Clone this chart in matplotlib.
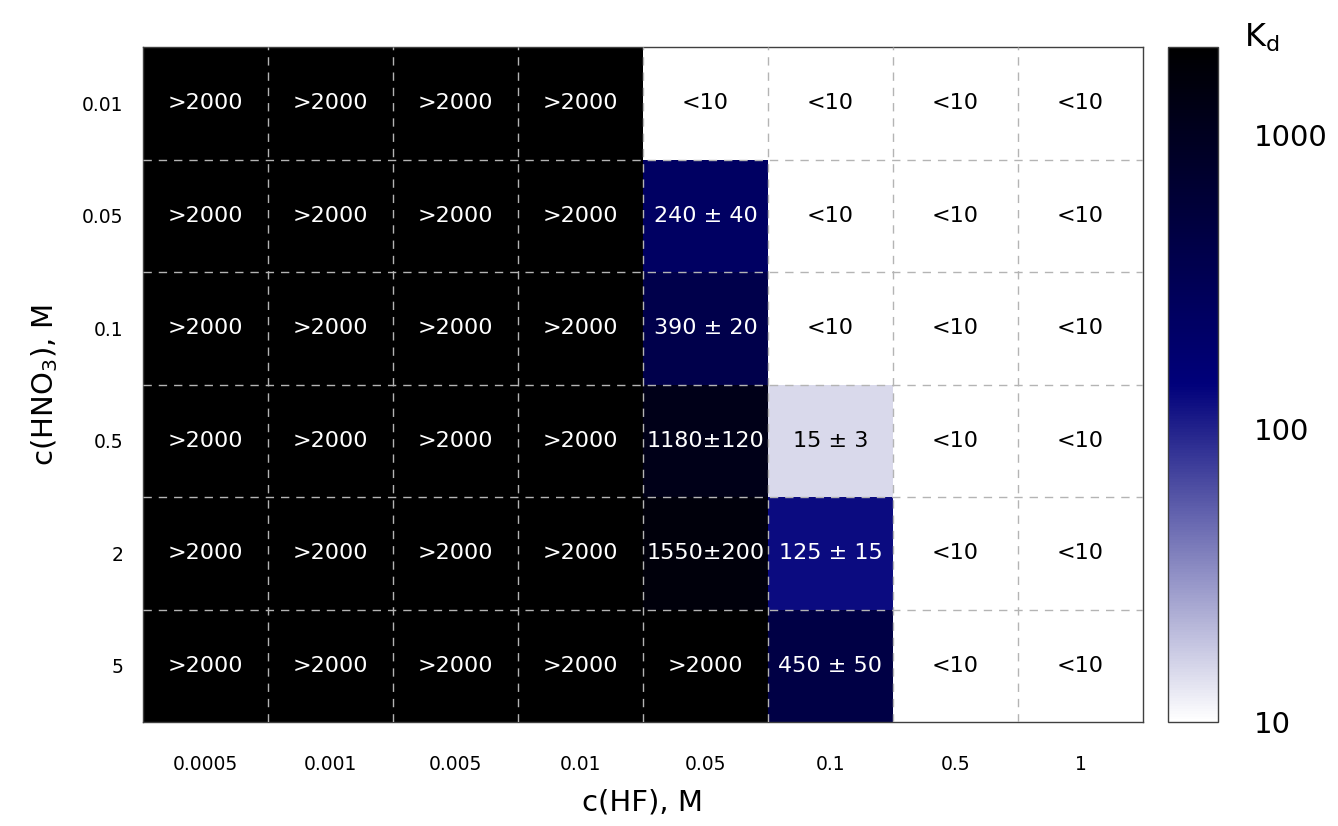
import numpy as np
import matplotlib
matplotlib.use("Agg")
import matplotlib.pyplot as plt
from matplotlib.colors import LinearSegmentedColormap, LogNorm

hf_labels = ["0.0005", "0.001", "0.005", "0.01", "0.05", "0.1", "0.5", "1"]
hno3_labels = ["0.01", "0.05", "0.1", "0.5", "2", "5"]

# Kd values used for colouring (">2000" -> 2000, "<10" -> 10)
kd_001 = [2000, 2000, 2000, 2000, 10, 10, 10, 10]
kd_005 = [2000, 2000, 2000, 2000, 240, 10, 10, 10]
kd_01 = [2000, 2000, 2000, 2000, 390, 10, 10, 10]
kd_05 = [2000, 2000, 2000, 2000, 1180, 15, 10, 10]
kd_2 = [2000, 2000, 2000, 2000, 1550, 125, 10, 10]
kd_5 = [2000, 2000, 2000, 2000, 2000, 450, 10, 10]

txt_001 = [">2000", ">2000", ">2000", ">2000", "<10", "<10", "<10", "<10"]
txt_005 = [">2000", ">2000", ">2000", ">2000", "240 ± 40", "<10", "<10", "<10"]
txt_01 = [">2000", ">2000", ">2000", ">2000", "390 ± 20", "<10", "<10", "<10"]
txt_05 = [">2000", ">2000", ">2000", ">2000", "1180±120", "15 ± 3", "<10", "<10"]
txt_2 = [">2000", ">2000", ">2000", ">2000", "1550±200", "125 ± 15", "<10", "<10"]
txt_5 = [">2000", ">2000", ">2000", ">2000", ">2000", "450 ± 50", "<10", "<10"]

kd = np.array([kd_001, kd_005, kd_01, kd_05, kd_2, kd_5], dtype=float)
txt = [txt_001, txt_005, txt_01, txt_05, txt_2, txt_5]

vmin, vmax = 10, 2000
navy_pos = 0.5
cmap = LinearSegmentedColormap.from_list(
    "kd", [(0.0, "#ffffff"), (navy_pos, "#00007a"), (1.0, "#000000")]
)
norm = LogNorm(vmin=vmin, vmax=vmax)

fig = plt.figure(figsize=(13.38, 8.26), dpi=100)
ax = fig.add_axes([143 / 1338, 104 / 826, 1000 / 1338, 675 / 826])

nrows, ncols = kd.shape
mesh = ax.pcolormesh(np.arange(ncols + 1), np.arange(nrows + 1), kd,
                     cmap=cmap, norm=norm, shading="flat")
ax.set_xlim(0, ncols)
ax.set_ylim(nrows, 0)

for r in range(nrows):
    for c in range(ncols):
        frac = norm(kd[r, c])
        color = "white" if frac > 0.3 else "black"
        ax.text(c + 0.5, r + 0.5, txt[r][c], ha="center", va="center",
                fontsize=16, color=color, family="DejaVu Sans")

# dashed cell boundaries
for x in range(1, ncols):
    ax.axvline(x, color="#b4b4b4", lw=1.0, ls=(0, (6, 5)), zorder=3)
for y in range(1, nrows):
    ax.axhline(y, color="#b4b4b4", lw=1.0, ls=(0, (6, 5)), zorder=3)

ax.set_xticks(np.arange(ncols) + 0.5)
ax.set_xticklabels(hf_labels, fontsize=13.5)
ax.set_yticks(np.arange(nrows) + 0.5)
ax.set_yticklabels(hno3_labels, fontsize=13.5)
ax.tick_params(axis="both", length=0)
ax.tick_params(axis="x", pad=24)
ax.tick_params(axis="y", pad=14)
for s in ax.spines.values():
    s.set_color("#404040")
    s.set_linewidth(1.0)

ax.set_xlabel("c(HF), M", fontsize=21, labelpad=10)
ax.set_ylabel("c(HNO$_3$), M", fontsize=21, labelpad=16)

cax = fig.add_axes([1168 / 1338, 104 / 826, 50 / 1338, 675 / 826])
cb = fig.colorbar(mesh, cax=cax)
cb.set_ticks([10, 100, 1000])
cb.set_ticklabels(["10", "100", "1000"])
cb.ax.minorticks_off()
cb.ax.tick_params(length=0, labelsize=21, pad=26)
cb.outline.set_edgecolor("#404040")
cb.outline.set_linewidth(1.0)
fig.text(1244 / 1338, 1 - 38 / 826, "K$_\\mathrm{d}$", fontsize=23,
         ha="left", va="center")

fig.savefig("out.png", dpi=100)
